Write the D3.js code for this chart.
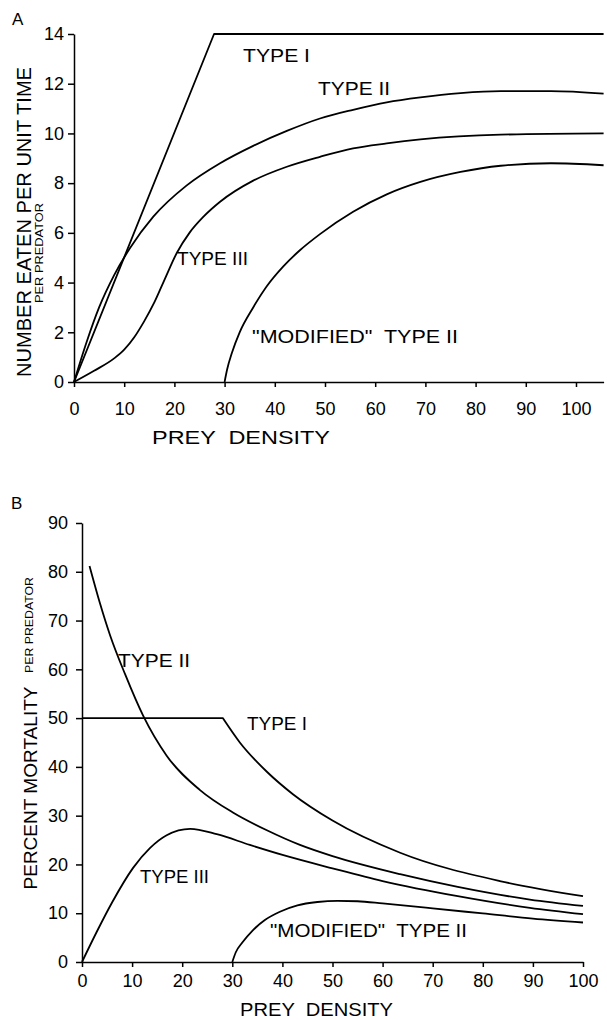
<!DOCTYPE html>
<html><head><meta charset="utf-8">
<script src="https://cdn.jsdelivr.net/npm/d3@7"></script>
<style>
body{margin:0;background:#fff;}
text{font-family:"Liberation Sans",Arial,sans-serif;fill:#000;white-space:pre;}
</style></head><body>
<svg id="c" width="607" height="1020"></svg>
<script>
// ---- Data ----
const xTicks = [0,10,20,30,40,50,60,70,80,90,100];
const yTicksA = [0,2,4,6,8,10,12,14];
const yTicksB = [0,10,20,30,40,50,60,70,80,90];

// Panel A: number eaten per predator per unit time
const a_typeI_x   = [0, 27.9, 105.5];
const a_typeI_y   = [0, 14, 14];
const a_typeII_x  = [0, 2.5, 5, 8, 11.2, 15.8, 22.4, 29.1, 35.7, 42.4, 49, 55.6, 62.3, 69, 77, 85, 95, 105.5];
const a_typeII_y  = [0, 1.6, 3.0, 4.3, 5.4, 6.65, 7.9, 8.8, 9.5, 10.1, 10.6, 10.95, 11.25, 11.45, 11.62, 11.7, 11.7, 11.6];
const a_typeIII_x = [0, 4, 8, 10, 12, 14, 16, 18, 20.5, 23, 25.8, 29.1, 35.7, 42.4, 49, 55.6, 62.3, 69, 85, 105.5];
const a_typeIII_y = [0, 0.45, 0.95, 1.3, 1.8, 2.45, 3.2, 4.1, 5.2, 6.0, 6.65, 7.25, 8.1, 8.66, 9.06, 9.4, 9.6, 9.76, 9.95, 10.0];
const a_modII_x   = [30, 30.5, 31.5, 33, 35.7, 38.4, 41.7, 45, 49, 55.6, 62.3, 69, 77, 85, 95, 105.5];
const a_modII_y   = [0, 0.5, 1.2, 2.0, 3.0, 3.85, 4.65, 5.3, 5.95, 6.85, 7.55, 8.05, 8.45, 8.7, 8.8, 8.72];

// Panel B: percent mortality per predator
const b_typeI_x   = [0, 28.1, 31.5, 36.9, 42.1, 50, 63.5, 83.4, 100];
const b_typeI_y   = [50, 50, 45.0, 39.0, 34.4, 29.0, 22.4, 16.6, 13.5];
const b_typeII_x  = [1.5, 3.6, 5.6, 8.6, 12.2, 16.9, 23.5, 30.2, 36.9, 43.5, 50, 63.5, 75, 89.4, 100];
const b_typeII_y  = [81.2, 73.5, 67, 59, 50.5, 42.3, 35.3, 30.6, 27, 24.0, 21.7, 18.0, 15.4, 12.8, 11.5];
const b_typeIII_x = [0, 3, 6, 10.2, 13.6, 16.9, 21.6, 26.9, 33.5, 40.2, 50, 60, 75, 89.4, 100];
const b_typeIII_y = [0, 6.3, 12.2, 19.3, 23.4, 26.0, 27.3, 26.2, 24.0, 21.9, 19.2, 16.6, 13.5, 11.1, 9.8];
const b_modII_x   = [30, 30.7, 32, 34, 36.5, 39.5, 43, 47, 51, 55, 60, 70, 80, 90, 100];
const b_modII_y   = [0, 2.0, 4.0, 6.4, 8.6, 10.3, 11.6, 12.3, 12.55, 12.45, 12.0, 11.0, 9.95, 8.9, 8.1];

const svg = d3.select("#c");
const zip = (xs, ys) => xs.map((x,i)=>[x, ys[i]]);

function panel(cfg){
  const g = svg.append("g");
  const x = d3.scaleLinear().domain(cfg.xDomain).range(cfg.xRange);
  const y = d3.scaleLinear().domain(cfg.yDomain).range(cfg.yRange);

  const xa = g.append("g").attr("transform",`translate(0,${cfg.yRange[0]})`)
    .call(d3.axisBottom(x).tickValues(xTicks).tickSize(5).tickSizeOuter(0).tickPadding(cfg.xPad));
  const ya = g.append("g").attr("transform",`translate(${cfg.xRange[0]},0)`)
    .call(d3.axisLeft(y).tickValues(cfg.yTicks).tickSize(6).tickSizeOuter(0).tickPadding(cfg.yPad));
  [xa,ya].forEach(a=>{
    a.selectAll("path,line").attr("stroke","#000").attr("stroke-width",1.5);
    a.selectAll("text").attr("font-size",18).attr("fill","#000")
      .attr("font-family",'"Liberation Sans",Arial,sans-serif');
  });

  const lin = d3.line().x(d=>x(d[0])).y(d=>y(d[1])).curve(d3.curveLinear);
  const smooth = d3.line().x(d=>x(d[0])).y(d=>y(d[1])).curve(d3.curveMonotoneX);
  cfg.series.forEach(s=>{
    const pts = zip(s.x, s.y);
    let d;
    if (s.linear) d = lin(pts);
    else if (s.splitAt != null) d = lin(pts.slice(0, s.splitAt+1)) + smooth(pts.slice(s.splitAt)).replace(/^M/,"L");
    else d = smooth(pts);
    g.append("path").attr("d", d)
      .attr("fill","none").attr("stroke","#000").attr("stroke-width",1.8)
      .attr("stroke-linejoin","round");
  });
  return g;
}

function label(t, x, y, size, len, rot){
  const el = svg.append("text").text(t).attr("font-size", size);
  if (rot){
    el.attr("transform",`translate(${x},${y}) rotate(-90)`).attr("text-anchor","middle");
  } else {
    el.attr("x",x).attr("y",y);
  }
  if (len) el.attr("textLength",len).attr("lengthAdjust","spacingAndGlyphs");
  return el;
}

panel({
  xDomain:[0,105.5], xRange:[74,603.6], yDomain:[0,14], yRange:[382,34],
  yTicks:yTicksA, xPad:15, yPad:4,
  series:[
    {x:a_typeI_x, y:a_typeI_y, linear:true},
    {x:a_typeII_x, y:a_typeII_y},
    {x:a_typeIII_x, y:a_typeIII_y},
    {x:a_modII_x, y:a_modII_y}
  ]
});
panel({
  xDomain:[0,100], xRange:[82,583], yDomain:[0,90], yRange:[962,523],
  yTicks:yTicksB, xPad:7, yPad:8,
  series:[
    {x:b_typeI_x, y:b_typeI_y, splitAt:1},
    {x:b_typeII_x, y:b_typeII_y},
    {x:b_typeIII_x, y:b_typeIII_y},
    {x:b_modII_x, y:b_modII_y}
  ]
});

// Panel A texts
label("A", 12, 25, 17);
label("TYPE I", 243, 62, 18, 67);
label("TYPE II", 318, 95, 18, 72);
label("TYPE III", 177, 265, 18, 71);
label('"MODIFIED"  TYPE II', 252, 343, 18, 206);
label("PREY  DENSITY", 152, 444, 18, 178);
label("NUMBER EATEN PER UNIT TIME", 31, 222, 20, 310, true);
label("PER PREDATOR", 43, 253, 10.5, 100, true);

// Panel B texts
label("B", 11, 509, 17);
label("TYPE II", 118, 667, 18, 72);
label("TYPE I", 247, 730, 18, 60);
label("TYPE III", 140, 883, 18, 69);
label('"MODIFIED"  TYPE II', 270, 937, 18, 197);
label("PREY  DENSITY", 240, 1016, 18, 153);
label("PERCENT MORTALITY", 37, 788, 19, 203, true);
label("PER PREDATOR", 33, 625, 10.5, 96, true);
</script>
</body></html>
